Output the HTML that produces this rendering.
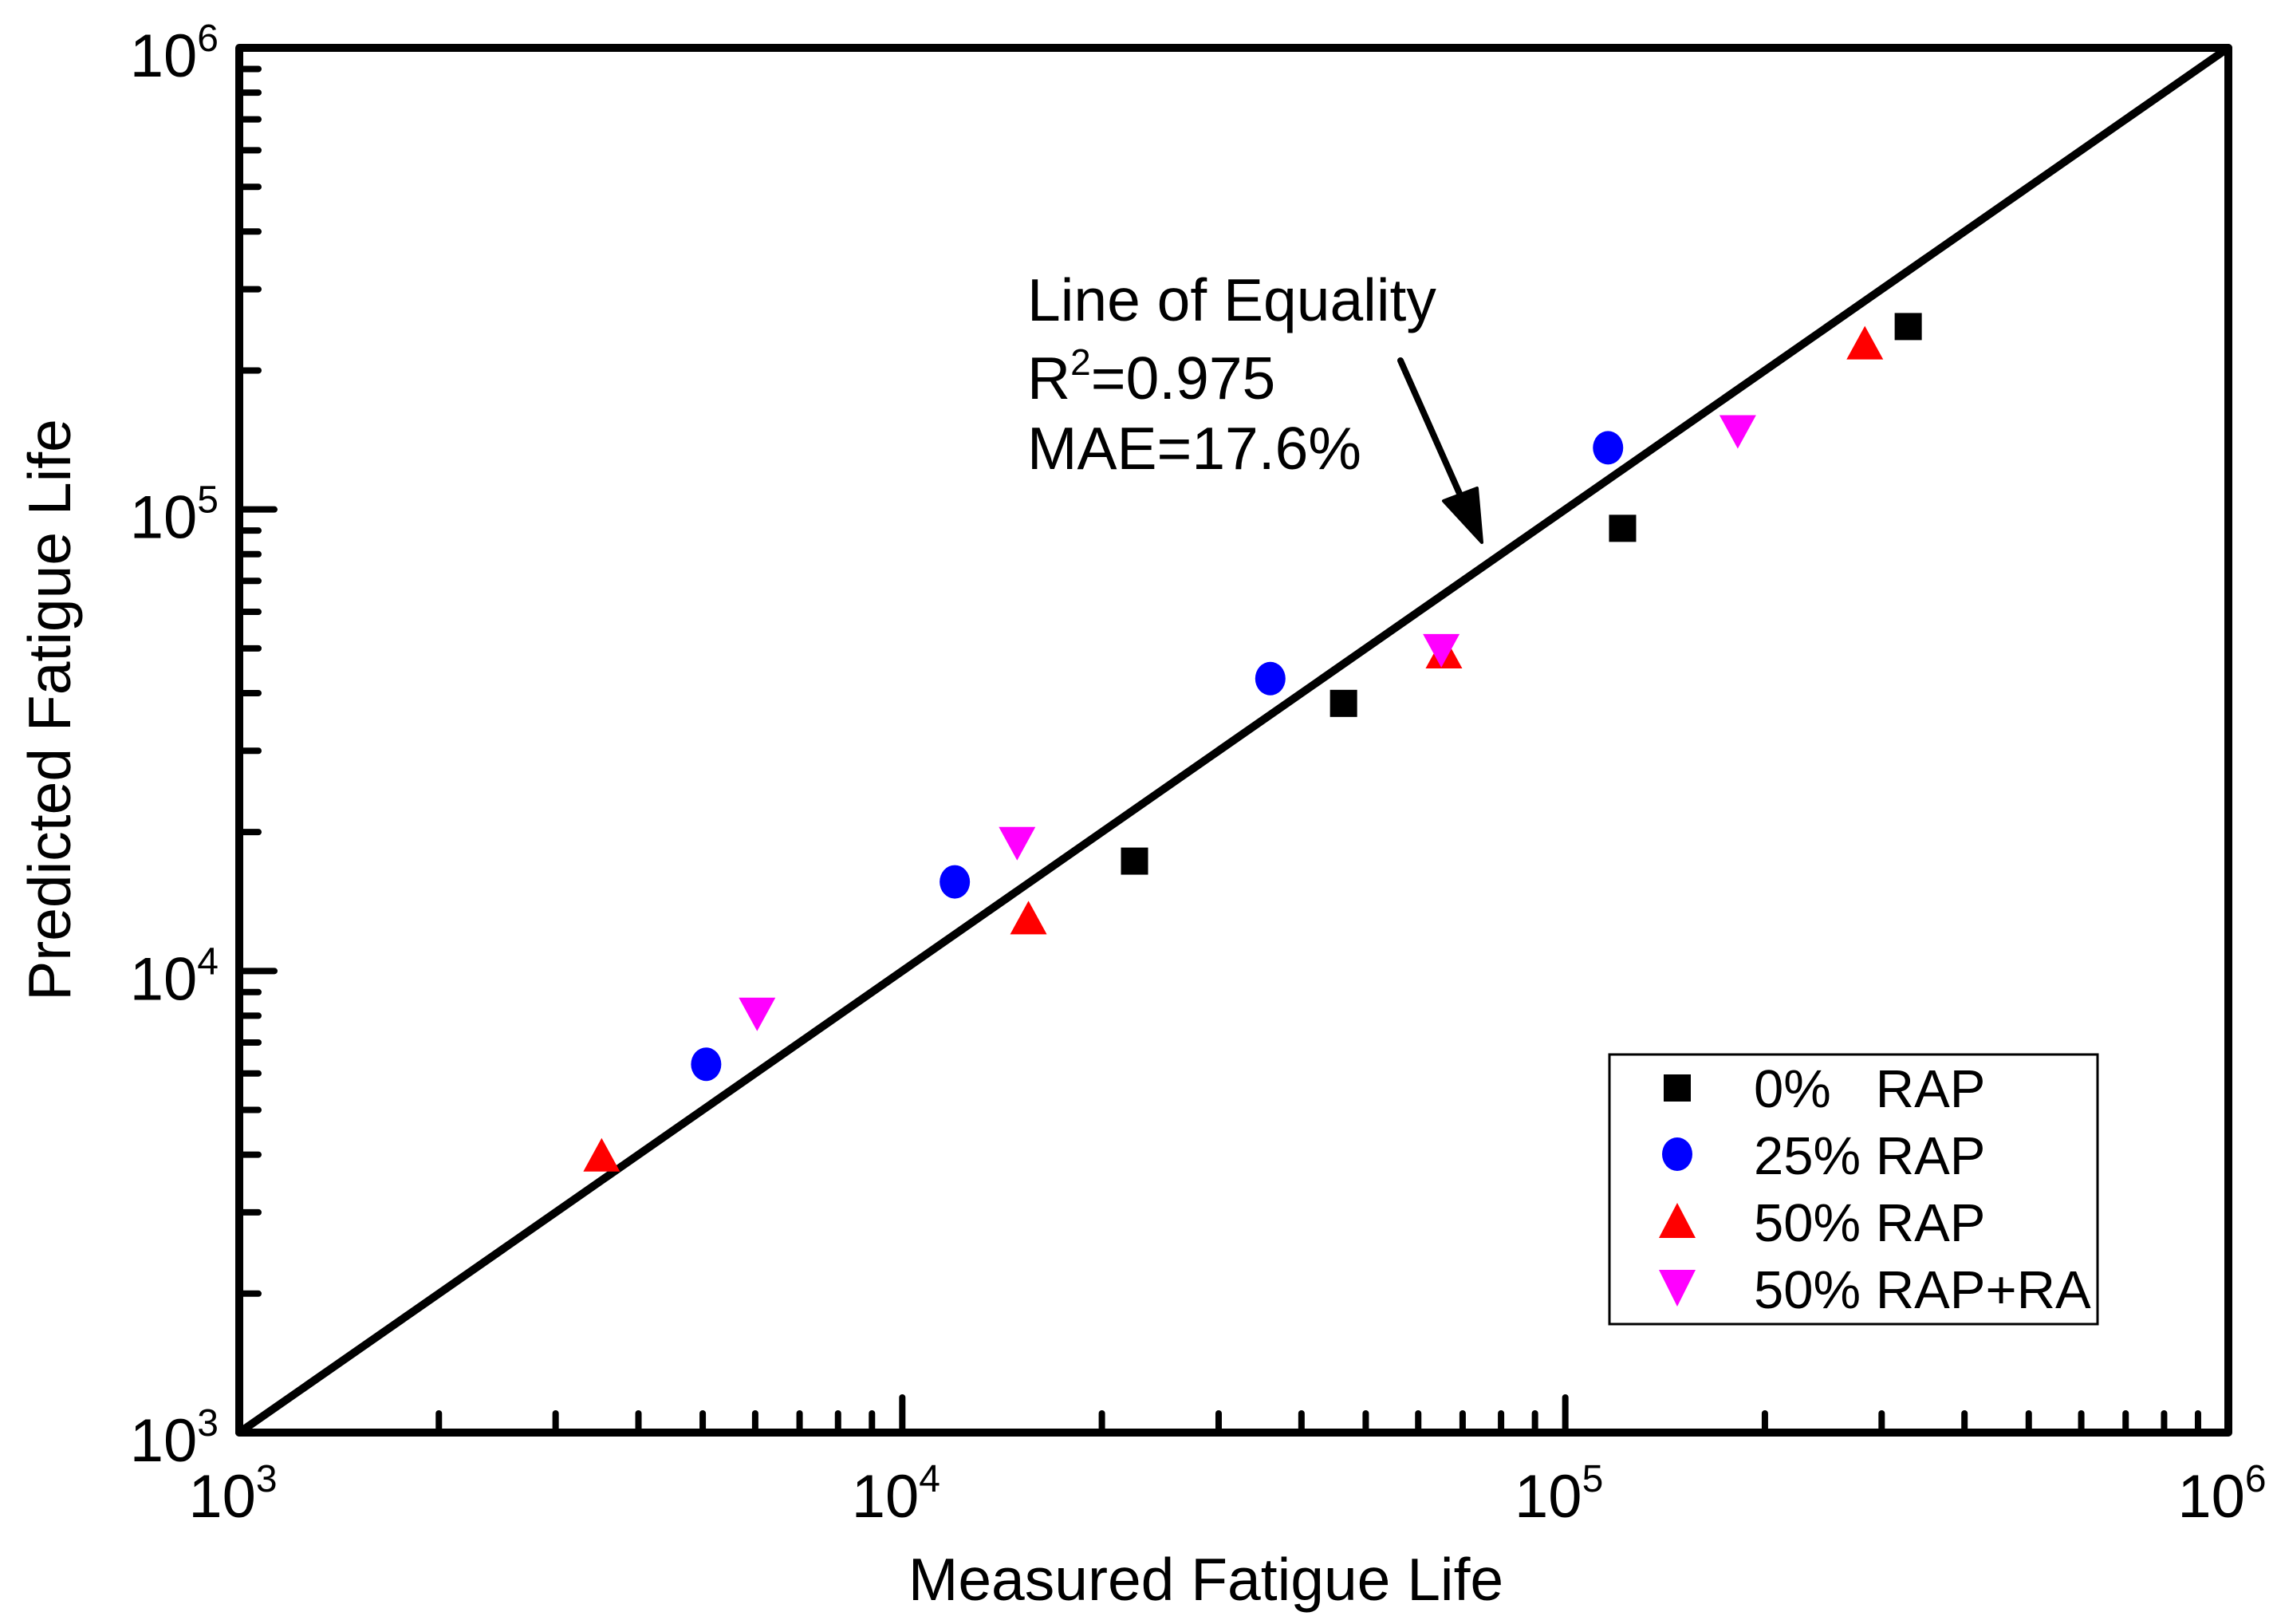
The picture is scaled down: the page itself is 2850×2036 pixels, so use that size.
<!DOCTYPE html>
<html><head><meta charset="utf-8"><style>
html,body{margin:0;padding:0;background:#fff;}
svg{display:block;font-family:"Liberation Sans",Arial,sans-serif;}
</style></head><body>
<svg id="chart" width="2850" height="2036" viewBox="0 0 2850 2036" xmlns="http://www.w3.org/2000/svg">
<rect width="2850" height="2036" fill="#fff"/>
<g id="marks"></g>
<g id="axes"></g>
<text x="1512" y="2006" font-size="75" text-anchor="middle">Measured Fatigue Life</text>
<text transform="translate(88,890) rotate(-90)" font-size="75" text-anchor="middle">Predicted Fatigue Life</text>
<g font-size="75">
<text x="1288" y="402">Line of Equality</text>
<text x="1288" y="500">R<tspan dy="-30" font-size="46">2</tspan><tspan dy="30">=0.975</tspan></text>
<text x="1288" y="588">MAE=17.6%</text>
<line x1="1756" y1="452" x2="1835" y2="630" stroke="#000" stroke-width="8" stroke-linecap="round"/>
<polygon points="1858,680 1810,628 1852,612" fill="#000" stroke="#000" stroke-width="4" stroke-linejoin="round"/>
</g>
<g>
<rect x="2018" y="1322" width="612" height="338" fill="#fff" stroke="#000" stroke-width="3"/>
<rect x="2086" y="1347" width="34" height="34" fill="#000"/>
<text x="2199" y="1388" font-size="67" xml:space="preserve">0%   RAP</text>
<ellipse cx="2103" cy="1447" rx="19" ry="21" fill="#0000ff"/>
<text x="2199" y="1472" font-size="67">25% RAP</text>
<polygon points="2103,1508 2126,1552 2080,1552" fill="#ff0000"/>
<text x="2199" y="1556" font-size="67">50% RAP</text>
<polygon points="2080,1592 2126,1592 2103,1638" fill="#ff00ff"/>
<text x="2199" y="1640" font-size="67">50% RAP+RA</text>
</g>
</svg>
<script>
const xTickExps = [3, 4, 5, 6];
const yTickExps = [3, 4, 5, 6];
const rap0X = [3.29e5, 1.22e5, 4.63e4, 2.24e4];
const rap0Y = [2.49e5, 9.1e4, 3.8e4, 1.73e4];
const rap25X = [1.16e5, 3.59e4, 1.2e4, 5.06e3];
const rap25Y = [1.36e5, 4.3e4, 1.56e4, 6.28e3];
const rap50X = [2.83e5, 6.56e4, 1.55e4, 3.52e3];
const rap50Y = [2.27e5, 4.86e4, 1.29e4, 3.95e3];
const rapRaX = [1.82e5, 6.5e4, 1.49e4, 6.04e3];
const rapRaY = [1.49e5, 5.0e4, 1.91e4, 8.15e3];
const equalityLine = [1e3, 1e6];

const NS = "http://www.w3.org/2000/svg";
const L = 300, R = 2794, T = 60, B = 1796;
function xs(v){ return L + (Math.log10(v) - 3) / 3 * (R - L); }
function ys(v){ return B - (Math.log10(v) - 3) / 3 * (B - T); }
function mk(tag, attrs, parent){
  const e = document.createElementNS(NS, tag);
  for (const k in attrs) e.setAttribute(k, attrs[k]);
  parent.appendChild(e); return e;
}
const marks = document.getElementById('marks');
const axes = document.getElementById('axes');

const eq = mk('line', {x1: xs(equalityLine[0]), y1: ys(equalityLine[0]), x2: xs(equalityLine[1]), y2: ys(equalityLine[1]), stroke: '#000', 'stroke-width': 10, 'stroke-linecap': 'round'}, marks);



const frame = mk('rect', {x: L, y: T, width: R - L, height: B - T, fill: 'none', stroke: '#000', 'stroke-width': 10, 'stroke-linejoin': 'round'}, axes);



for (let d = 3; d <= 6; d++) {
  for (let m = 1; m <= 9; m++) {
    if (d === 6 && m > 1) break;
    const v = m * Math.pow(10, d);
    const len = m === 1 ? 44 : 24;
    const xt = mk('line', {x1: xs(v), y1: B, x2: xs(v), y2: B - len, stroke: '#000', 'stroke-width': 8, 'stroke-linecap': 'round'}, axes);
    
    
    const yt = mk('line', {x1: L, y1: ys(v), x2: L + len, y2: ys(v), stroke: '#000', 'stroke-width': 8, 'stroke-linecap': 'round'}, axes);
    
    
  }
}
xTickExps.forEach(e => {
  const t = mk('text', {x: xs(Math.pow(10, e)) - 8, y: 1902, 'font-size': 76, 'text-anchor': 'middle'}, axes);
  
  
  t.innerHTML = '10<tspan dy="-32" font-size="48">' + e + '</tspan>';
});
yTickExps.forEach(e => {
  const t = mk('text', {x: 274, y: ys(Math.pow(10, e)) + 36, 'font-size': 76, 'text-anchor': 'end'}, axes);
  
  
  t.innerHTML = '10<tspan dy="-32" font-size="48">' + e + '</tspan>';
});

rap0X.forEach((v, i) => {
  const cx = xs(v), cy = ys(rap0Y[i]);
  const p = mk('rect', {x: cx - 17, y: cy - 17, width: 34, height: 34, fill: '#000'}, marks);
  
  
});
rap25X.forEach((v, i) => {
  const cx = xs(v), cy = ys(rap25Y[i]);
  const p = mk('ellipse', {cx: cx, cy: cy, rx: 19, ry: 21, fill: '#0000ff'}, marks);
  
  
});
rap50X.forEach((v, i) => {
  const cx = xs(v), cy = ys(rap50Y[i]);
  const p = mk('polygon', {points: `${cx},${cy-24} ${cx+23},${cy+18} ${cx-23},${cy+18}`, fill: '#ff0000'}, marks);
  
  
});
rapRaX.forEach((v, i) => {
  const cx = xs(v), cy = ys(rapRaY[i]);
  const p = mk('polygon', {points: `${cx-23},${cy-18} ${cx+23},${cy-18} ${cx},${cy+24}`, fill: '#ff00ff'}, marks);
  
  
});
</script>
</body></html>
